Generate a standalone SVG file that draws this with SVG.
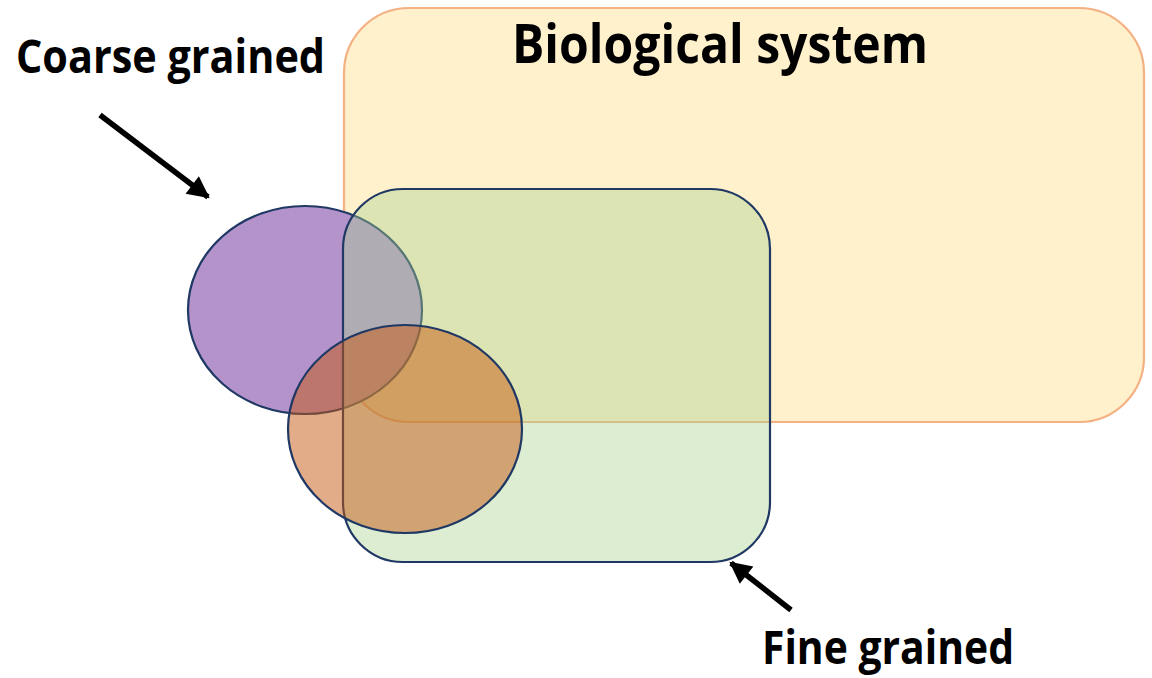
<svg xmlns="http://www.w3.org/2000/svg" width="1152" height="678" viewBox="0 0 1152 678">
  <style>
    .label { font-family: "Open Sans", "Liberation Sans", sans-serif; font-weight: bold; fill: #000; }
    .navy { stroke: #1F3864; stroke-width: 2.2; }
  </style>
  <defs>
    <marker id="head" viewBox="0 0 10 10" refX="9" refY="5" markerWidth="4.6" markerHeight="4" markerUnits="strokeWidth" orient="auto">
      <path d="M0,0 L10,5 L0,10 Z" fill="#000"/>
    </marker>
  </defs>

  <rect width="1152" height="678" fill="#fff"/>

  <!-- biological system region -->
  <g id="biological-system">
    <rect x="344" y="8" width="800" height="414" rx="65" ry="65" fill="#FFF1CC" stroke="#F4B183" stroke-width="2.2"/>
    <text class="label" x="512" y="63" font-size="53" textLength="416" lengthAdjust="spacingAndGlyphs">Biological system</text>
  </g>

  <!-- coarse grained model -->
  <g id="coarse-grained">
    <ellipse cx="305" cy="310" rx="117" ry="104" fill="#B493CB" class="navy"/>
  </g>

  <!-- fine grained model -->
  <g id="fine-grained">
    <rect x="343" y="189" width="427" height="373" rx="60" ry="60" fill="#A9D18E" fill-opacity="0.4" class="navy"/>
  </g>

  <!-- overlap set -->
  <g id="intersection">
    <ellipse cx="405" cy="429" rx="117" ry="104" fill="#C55A11" fill-opacity="0.5" class="navy"/>
  </g>

  <g id="labels">
    <text class="label" x="16" y="73" font-size="46" textLength="309" lengthAdjust="spacingAndGlyphs">Coarse grained</text>
    <text class="label" x="762" y="664" font-size="46" textLength="252" lengthAdjust="spacingAndGlyphs">Fine grained</text>
  </g>

  <!-- pointers -->
  <g id="connectors" stroke="#000" stroke-width="5.5" fill="none">
    <line x1="100" y1="115" x2="208" y2="197" marker-end="url(#head)"/>
    <line x1="791" y1="610" x2="731" y2="563" marker-end="url(#head)"/>
  </g>
</svg>
